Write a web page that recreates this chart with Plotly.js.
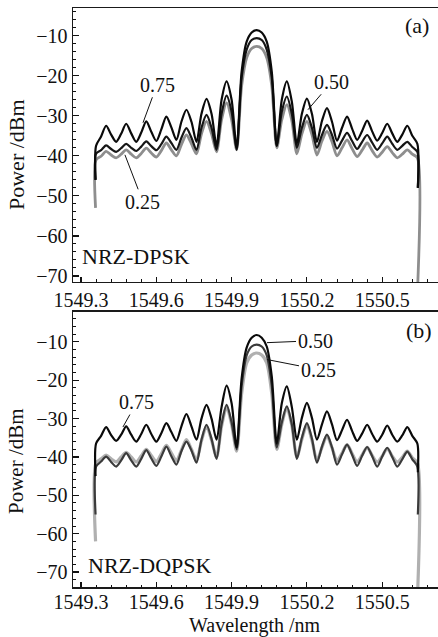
<!DOCTYPE html>
<html>
<head>
<meta charset="utf-8">
<script src="https://cdn.plot.ly/plotly-3.0.1.min.js"></script>
<style>html,body{margin:0;padding:0;background:#fff;}#chart{width:438px;height:637px;}</style>
</head>
<body>
<div id="chart"></div>
<script>
// Wavelength grid (nm), shared by all curves
const wavelength = [1549.358,1549.36,1549.38,1549.40,1549.42,1549.44,1549.46,1549.48,1549.50,1549.52,1549.54,1549.56,1549.58,1549.60,1549.62,1549.64,1549.66,1549.68,1549.70,1549.72,1549.74,1549.76,1549.78,1549.80,1549.82,1549.84,1549.86,1549.88,1549.90,1549.92,1549.94,1549.96,1549.98,1550.00,1550.02,1550.04,1550.06,1550.08,1550.10,1550.12,1550.14,1550.16,1550.18,1550.20,1550.22,1550.24,1550.26,1550.28,1550.30,1550.32,1550.34,1550.36,1550.38,1550.40,1550.42,1550.44,1550.46,1550.48,1550.50,1550.52,1550.54,1550.56,1550.58,1550.60,1550.62,1550.64,1550.642];

// Panel (a) NRZ-DPSK, power in dBm
const dpsk075 = [-46,-37.5,-35.2,-32.5,-34.7,-36.5,-34.5,-32,-34.4,-36.5,-34.2,-31.4,-34.0,-36.3,-33.4,-30.2,-32.9,-36,-31.5,-28.5,-31.5,-36.5,-29.5,-25.8,-29.5,-37.5,-26,-21.4,-26,-38,-19,-11.5,-9.2,-8.6,-9.2,-11.5,-19,-37.5,-26,-21.4,-26.5,-37,-29.5,-25.7,-29.5,-36.5,-31.3,-28.1,-31.5,-36.2,-33,-30.2,-33.2,-36,-33.8,-31.2,-33.9,-36.2,-34.3,-32,-34.4,-36.5,-34.7,-32.5,-35,-37,-48];
const dpsk050 = [-46,-39.5,-38.6,-37.4,-38.3,-39,-38.1,-37,-38,-38.8,-37.7,-36.4,-37.6,-38.6,-37.1,-35.2,-36.8,-38.5,-35.5,-33.1,-35.5,-38.5,-33,-29.8,-33,-38.5,-29.5,-25,-29,-38.5,-20.5,-13.5,-11.1,-10.6,-11.1,-13.5,-20.5,-37.5,-29,-25.2,-29.5,-38,-33,-29.8,-33,-38,-34.8,-32.3,-34.8,-38.2,-36.2,-34.3,-36.3,-38.3,-36.5,-34.8,-36.7,-38.5,-36.9,-35.2,-37,-38.5,-37.5,-36.5,-37.8,-39,-48];
const dpsk025 = [-53,-41,-40.1,-38.9,-39.8,-40.5,-39.6,-38.5,-39.6,-40.5,-39.4,-38.1,-39.3,-40.3,-38.7,-36.8,-38.5,-40,-37.2,-34.8,-37,-39.5,-34.5,-31.4,-34.5,-39,-31,-26.8,-31,-38.5,-22.5,-15.5,-13.2,-12.7,-13.2,-15.5,-22.5,-38,-31,-27.2,-31.2,-39.5,-34.5,-31.4,-34.7,-39.8,-36.3,-33.9,-36.5,-40,-38,-36,-38.2,-40.2,-38.6,-36.8,-38.7,-40.3,-39.1,-37.7,-39.2,-40.5,-39.6,-38.5,-39.6,-40.5,-71.5];

// Panel (b) NRZ-DQPSK, power in dBm
const dqpsk075 = [-45,-36.5,-34.5,-32.2,-34.3,-35.8,-34.2,-32,-34.2,-36,-34,-31.6,-34,-36,-33.8,-31.2,-33.5,-35.8,-32,-28.8,-32,-35.5,-30,-26.4,-30,-35.5,-27,-21.4,-26,-37.5,-19.5,-11.5,-8.9,-8.2,-8.9,-11.2,-19,-36.5,-26,-21.6,-27,-35.5,-29.8,-25.9,-29.8,-35.5,-31.5,-28.1,-31.5,-35.6,-33,-30.3,-33.2,-35.8,-33.9,-31.6,-34,-36,-34.2,-31.8,-34.2,-36,-34.4,-32.2,-34.5,-36.5,-44];
const dqpsk050 = [-55,-42.5,-41.2,-39.9,-41.3,-42.5,-40.9,-39,-40.9,-42.5,-40.5,-38.2,-40.4,-42.3,-39.9,-37.3,-39.8,-42,-38.5,-36,-38.3,-41.5,-35.5,-31.6,-35.3,-40.5,-31.5,-26.4,-31,-38,-21.5,-13.5,-11.2,-10.7,-11.2,-13.5,-21.5,-37.5,-31,-26.8,-31.5,-40.5,-35,-31.2,-35.2,-41.5,-37.3,-34.2,-37.5,-42,-39.3,-36.8,-39.4,-42.3,-39.7,-37.4,-39.8,-42.5,-39.9,-37.6,-40,-42.5,-40.6,-38.6,-40.6,-42.5,-55];
const dqpsk025 = [-62,-41.5,-40.5,-39.5,-40.5,-41.3,-40,-38.8,-40,-41.3,-39.7,-38,-39.6,-41.2,-39.2,-37,-39,-41,-38.2,-35.5,-38,-40.8,-35.8,-32,-35.6,-40,-32,-27,-31.5,-38.5,-23.5,-15.5,-13.4,-12.9,-13.4,-15.5,-23.5,-38,-31.5,-27.2,-31.8,-40,-35.4,-31.6,-35.6,-40.8,-37.5,-34.5,-37.6,-41,-39,-36.8,-39.1,-41.2,-39.5,-37.5,-39.6,-41.3,-39.8,-37.8,-39.8,-41.3,-40.1,-38.5,-40.2,-41.5,-73.9];

// Axis ticks
const xTicks = [1549.3, 1549.6, 1549.9, 1550.2, 1550.5];
const xTickText = ['1549.3', '1549.6', '1549.9', '1550.2', '1550.5'];
const yTicks = [-10, -20, -30, -40, -50, -60, -70];

// Labels
const panelLabels = ['(a)', '(b)'];
const formatLabels = ['NRZ-DPSK', 'NRZ-DQPSK'];
const xTitle = 'Wavelength /nm';
const yTitle = 'Power /dBm';

const FONT = "'Liberation Serif', 'Times New Roman', Times, serif";

function line(x, y, color, width, xa, ya, name) {
  return {x: x, y: y, type: 'scatter', mode: 'lines', name: name,
    xaxis: xa, yaxis: ya,
    line: {color: color, width: width, shape: 'spline', smoothing: 0.8},
    hoverinfo: 'skip', showlegend: false};
}

const data = [
  line(wavelength, dpsk025, '#8e8e8e', 2.8, 'x', 'y', '0.25'),
  line(wavelength, dpsk050, '#161616', 2.2, 'x', 'y', '0.50'),
  line(wavelength, dpsk075, '#0a0a0a', 2.2, 'x', 'y', '0.75'),
  line(wavelength, dqpsk025, '#b0b0b0', 3.2, 'x2', 'y2', '0.25'),
  line(wavelength, dqpsk050, '#3a3a3a', 2.2, 'x2', 'y2', '0.50'),
  line(wavelength, dqpsk075, '#0a0a0a', 2.2, 'x2', 'y2', '0.75')
];

function xAxis(anchor, standoff) {
  return {
    anchor: anchor, range: [1549.2681, 1550.7223], tickmode: 'array',
    tickvals: xTicks, ticktext: xTickText, ticks: 'inside', ticklen: 5,
    tickwidth: 1.2, tickcolor: '#111', ticklabelstandoff: standoff,
    minor: {dtick: 0.06, tick0: 1549.3, ticks: 'inside', ticklen: 2.5, tickwidth: 1, tickcolor: '#111'},
    showline: true, linecolor: '#1a1a1a', linewidth: 1.5, mirror: true,
    showgrid: false, zeroline: false,
    tickfont: {family: FONT, size: 20, color: '#111'}
  };
}
function yAxis(anchor, domain, range) {
  return {
    anchor: anchor, domain: domain, range: range, tickmode: 'array',
    tickvals: yTicks, ticks: 'inside', ticklen: 6, tickwidth: 1.2, tickcolor: '#111',
    minor: {dtick: 2, tick0: 0, ticks: 'inside', ticklen: 3, tickwidth: 1, tickcolor: '#111'},
    showline: true, linecolor: '#1a1a1a', linewidth: 1.5, mirror: false,
    showgrid: false, zeroline: false,
    tickfont: {family: FONT, size: 20, color: '#111'}
  };
}

function pointer(text, x, y, ax, ay, xa, ya) {
  return {text: text, x: x, y: y, xref: xa, yref: ya, ax: ax, ay: ay,
    showarrow: true, arrowhead: 0, arrowwidth: 1, arrowcolor: '#111', standoff: 0,
    font: {family: FONT, size: 20, color: '#111'}};
}
function label(text, x, y, xanchor, size, angle) {
  return {text: text, x: x, y: y, xref: 'paper', yref: 'paper', xanchor: xanchor, yanchor: 'middle',
    showarrow: false, borderpad: 0, textangle: angle || 0, font: {family: FONT, size: size, color: '#111'}};
}

const layout = {
  width: 438, height: 637,
  margin: {l: 73, r: 0, t: 8, b: 50},
  paper_bgcolor: '#fff', plot_bgcolor: '#fff',
  xaxis: xAxis('y', 0),
  yaxis: yAxis('x', [0.5268, 1], [-71.5, -3.1]),
  xaxis2: xAxis('y2', -4),
  yaxis2: yAxis('x2', [0, 0.4750], [-73.9, -2.2]),
  annotations: [
    pointer('0.75', 1549.547, -31.75, 14, -38, 'x', 'y'),
    pointer('0.50', 1550.204, -28.5, 24, -28, 'x', 'y'),
    pointer('0.25', 1549.475, -39.75, 18, 47, 'x', 'y'),
    pointer('0.50', 1550.041, -10.2, 48, -2, 'x2', 'y2'),
    pointer('0.25', 1550.041, -14.6, 51, 10, 'x2', 'y2'),
    pointer('0.75', 1549.467, -32.2, 14, -25, 'x2', 'y2'),
    label(panelLabels[0], (417 - 73) / 365, (587 - 25) / 579, 'center', 22),
    label(panelLabels[1], (419 - 73) / 365, (587 - 330) / 579, 'center', 22),
    label(formatLabels[0], (81 - 73) / 365, (587 - 256) / 579, 'left', 22),
    label(formatLabels[1], (87 - 73) / 365, (587 - 565) / 579, 'left', 22),
    label(yTitle, (16 - 73) / 365, (587 - 155) / 579, 'center', 22, -90),
    label(yTitle, (16 - 73) / 365, (587 - 461) / 579, 'center', 21, -90),
    label(xTitle, (255 - 73) / 365, (587 - 625) / 579, 'center', 20)
  ]
};

Plotly.newPlot('chart', data, layout, {displayModeBar: false, staticPlot: true});
</script>
</body>
</html>
